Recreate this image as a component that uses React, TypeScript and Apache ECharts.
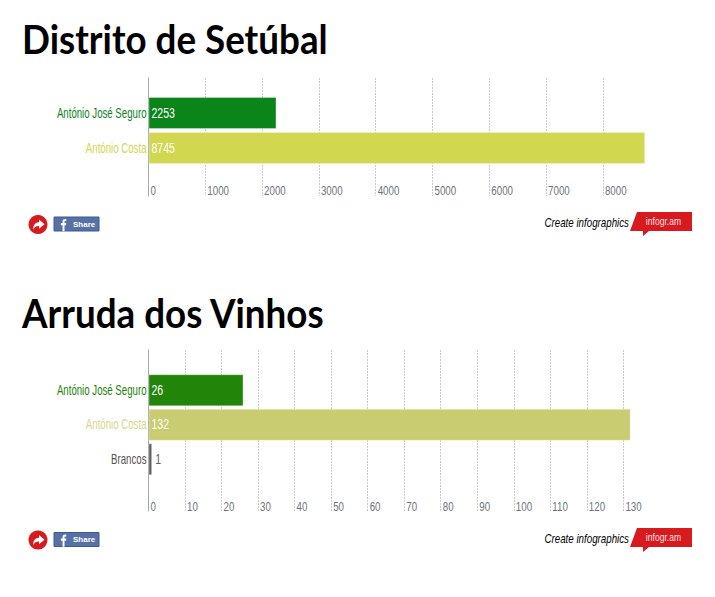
import React, { useEffect, useRef } from "react";
import * as echarts from "echarts";

const titles = ["Distrito de Setúbal", "Arruda dos Vinhos"];
const categoriesA = ["António José Seguro", "António Costa"];
const valuesA = [2253, 8745];
const barColorsA = ["#0b841a", "#d1d74f"];
const labelColorsA = ["#0b841a", "#d1d74f"];
const ticksA = [0, 1000, 2000, 3000, 4000, 5000, 6000, 7000, 8000];
const categoriesB = ["António José Seguro", "António Costa", "Brancos"];
const valuesB = [26, 132, 1];
const barColorsB = ["#228509", "#c9cc70", "#5c6064"];
const labelColorsB = ["#228509", "#d6d68c", "#5c5050"];
const ticksB = [0, 10, 20, 30, 40, 50, 60, 70, 80, 90, 100, 110, 120, 130];

const SANS = "'Liberation Sans', sans-serif";
const TITLE_FONT = "Lato, 'Noto Sans', sans-serif";
const SQUEEZE = 0.75;
const plotLeft = 148.5;

echarts.graphic.registerShape(
  "shareArrow",
  echarts.graphic.extendPath("M9 0 L16 6 L9 12 L9 8.2 C5 8 3 9.5 1.5 13 C1.5 7 4 3.8 9 3.6 Z", {})
);
echarts.graphic.registerShape("fbF", echarts.graphic.extendPath("M3 13 L3 6.5 L1 6.5 L1 4.2 L3 4.2 L3 2.8 C3 0.9 4.1 0 5.8 0 L7.4 0.1 L7.4 2.2 L6.3 2.2 C5.5 2.2 5.3 2.6 5.3 3.2 L5.3 4.2 L7.4 4.2 L7.1 6.5 L5.3 6.5 L5.3 13 Z", {}));

function narrowText(x: number, y: number, text: string, fill: string, size: number, align = "left", style = "", squeeze = SQUEEZE) {
  return {
    type: "text",
    x,
    y,
    scaleX: squeeze,
    z: 10,
    style: { text, fill, font: `${style} ${size}px ${SANS}`.trim(), textAlign: align, textVerticalAlign: "middle" },
  };
}

function heading(y: number, text: string) {
  return {
    type: "text",
    x: 22,
    y,
    scaleX: 0.92,
    style: { text, fill: "#000000", font: `bold 40px ${TITLE_FONT}`, textVerticalAlign: "middle" },
  };
}

function footer(y: number, shareY: number) {
  return [
    { type: "circle", shape: { cx: 38, cy: shareY + 1, r: 9.5 }, style: { fill: "#d71a1e" } },
    { type: "shareArrow", x: 32, y: shareY - 4, scaleX: 0.78, scaleY: 0.78, style: { fill: "#ffffff" } },
    { type: "rect", shape: { x: 54, y: shareY - 6.5, width: 45, height: 14 }, style: { fill: "#5770a5", stroke: "#3f5a92", lineWidth: 1 } },
    { type: "fbF", x: 60, y: shareY - 4.5, scaleX: 0.85, scaleY: 0.95, style: { fill: "#ffffff" } },
    { type: "text", x: 73, y: shareY + 0.5, style: { text: "Share", fill: "#ffffff", font: `bold 8px ${SANS}`, textVerticalAlign: "middle" } },
    narrowText(629, y - 1, "Create infographics", "#000000", 13, "right", "italic"),
    { type: "polygon", shape: { points: [[637, y - 11], [692, y - 11], [692, y + 8], [649, y + 8], [643, y + 13], [643, y + 8], [630, y + 8]] }, style: { fill: "#d71a1e" } },
    { type: "text", x: 663.5, y: y - 2, scaleX: 0.78, style: { text: "infogr.am", fill: "#f8e0e0", font: `11px ${SANS}`, textAlign: "center", textVerticalAlign: "middle" } },
  ];
}

export default function App() {
  const ref = useRef<HTMLDivElement>(null);
  useEffect(() => {
    const chart = echarts.init(ref.current!, undefined, { renderer: "svg" });
    const valueAxisShown = (gridIndex: number, max: number, interval: number) => ({
      type: "value",
      gridIndex,
      min: 0,
      max,
      interval,
      axisLine: { show: false },
      axisTick: { show: false },
      axisLabel: { show: false },
      splitLine: { show: true, showMinLine: false, showMaxLine: false, lineStyle: { color: "#cccccc", type: [2, 1], width: 1 } },
    });
    const valueAxisHidden = (gridIndex: number, max: number) => ({ type: "value", gridIndex, min: 0, max, show: false });
    const frameY = (gridIndex: number) => ({
      type: "category",
      gridIndex,
      data: [],
      axisLine: { show: true, lineStyle: { color: "#a8a8a8", width: 1 } },
      axisTick: { show: false },
      axisLabel: { show: false },
    });
    const catY = (gridIndex: number, data: string[]) => ({
      type: "category",
      gridIndex,
      inverse: true,
      data,
      axisLine: { show: false },
      axisTick: { show: false },
      axisLabel: { show: false },
    });
    const maxA = 8800;
    const maxB = 135;
    const wA = (496.7 / 8745) * maxA;
    const wB = (482.2 / 132) * maxB;
    const edge = { borderColor: "rgba(255,255,255,0.3)", borderWidth: 1 };
    chart.setOption({
      animation: false,
      backgroundColor: "#ffffff",
      grid: [
        { left: plotLeft, top: 78, width: wA, height: 118 },
        { left: plotLeft, top: 95.5, width: wA, height: 70 },
        { left: plotLeft, top: 350, width: wB, height: 161 },
        { left: plotLeft, top: 373, width: wB, height: 103.5 },
      ],
      xAxis: [valueAxisShown(0, maxA, 1000), valueAxisHidden(1, maxA), valueAxisShown(2, maxB, 10), valueAxisHidden(3, maxB)],
      yAxis: [frameY(0), catY(1, categoriesA), frameY(2), catY(3, categoriesB)],
      series: [
        {
          type: "bar",
          xAxisIndex: 1,
          yAxisIndex: 1,
          barWidth: 32,
          data: valuesA.map((value, i) => ({ value, itemStyle: { color: barColorsA[i], ...edge } })),
        },
        {
          type: "bar",
          xAxisIndex: 3,
          yAxisIndex: 3,
          barWidth: 32,
          data: valuesB.map((value, i) => ({ value, itemStyle: { color: barColorsB[i], ...edge } })),
        },
      ],
    });

    // The reference's labels use a narrow face that is not installed, so they are
    // squeezed real texts, placed through the chart's own scales.
    const labels = (axis: number, cats: string[], values: number[], colors: string[]) => {
      const finder = { xAxisIndex: axis, yAxisIndex: axis };
      return cats.flatMap((cat, i) => {
        const [x0, y] = chart.convertToPixel(finder, [0, i]) as number[];
        const [xv] = chart.convertToPixel(finder, [values[i], i]) as number[];
        const small = xv - x0 < 20;
        return [
          narrowText(x0 - 2, y, cat, colors[i], 14, "right", "", 0.69),
          narrowText(small ? xv + 3 : x0 + 3, y, String(values[i]), small ? "#5c6470" : "#ffffff", 14),
        ];
      });
    };
    const ticks = (axis: number, values: number[], y: number) =>
      values.map((v) => {
        const x = chart.convertToPixel({ xAxisIndex: axis }, v) as number;
        return narrowText(x + 2, y, String(v), "#6b7480", 13);
      });
    chart.setOption({
      graphic: [
        heading(38.5, titles[0]),
        heading(312.5, titles[1]),
        ...labels(1, categoriesA, valuesA, labelColorsA),
        ...labels(3, categoriesB, valuesB, labelColorsB),
        ...ticks(0, ticksA, 190),
        ...ticks(2, ticksB, 506),
        ...footer(223, 223.5),
        ...footer(539, 539),
      ],
    });
    return () => chart.dispose();
  }, []);
  return <div ref={ref} style={{ position: "absolute", left: 0, top: 0, width: 715, height: 597 }} />;
}
